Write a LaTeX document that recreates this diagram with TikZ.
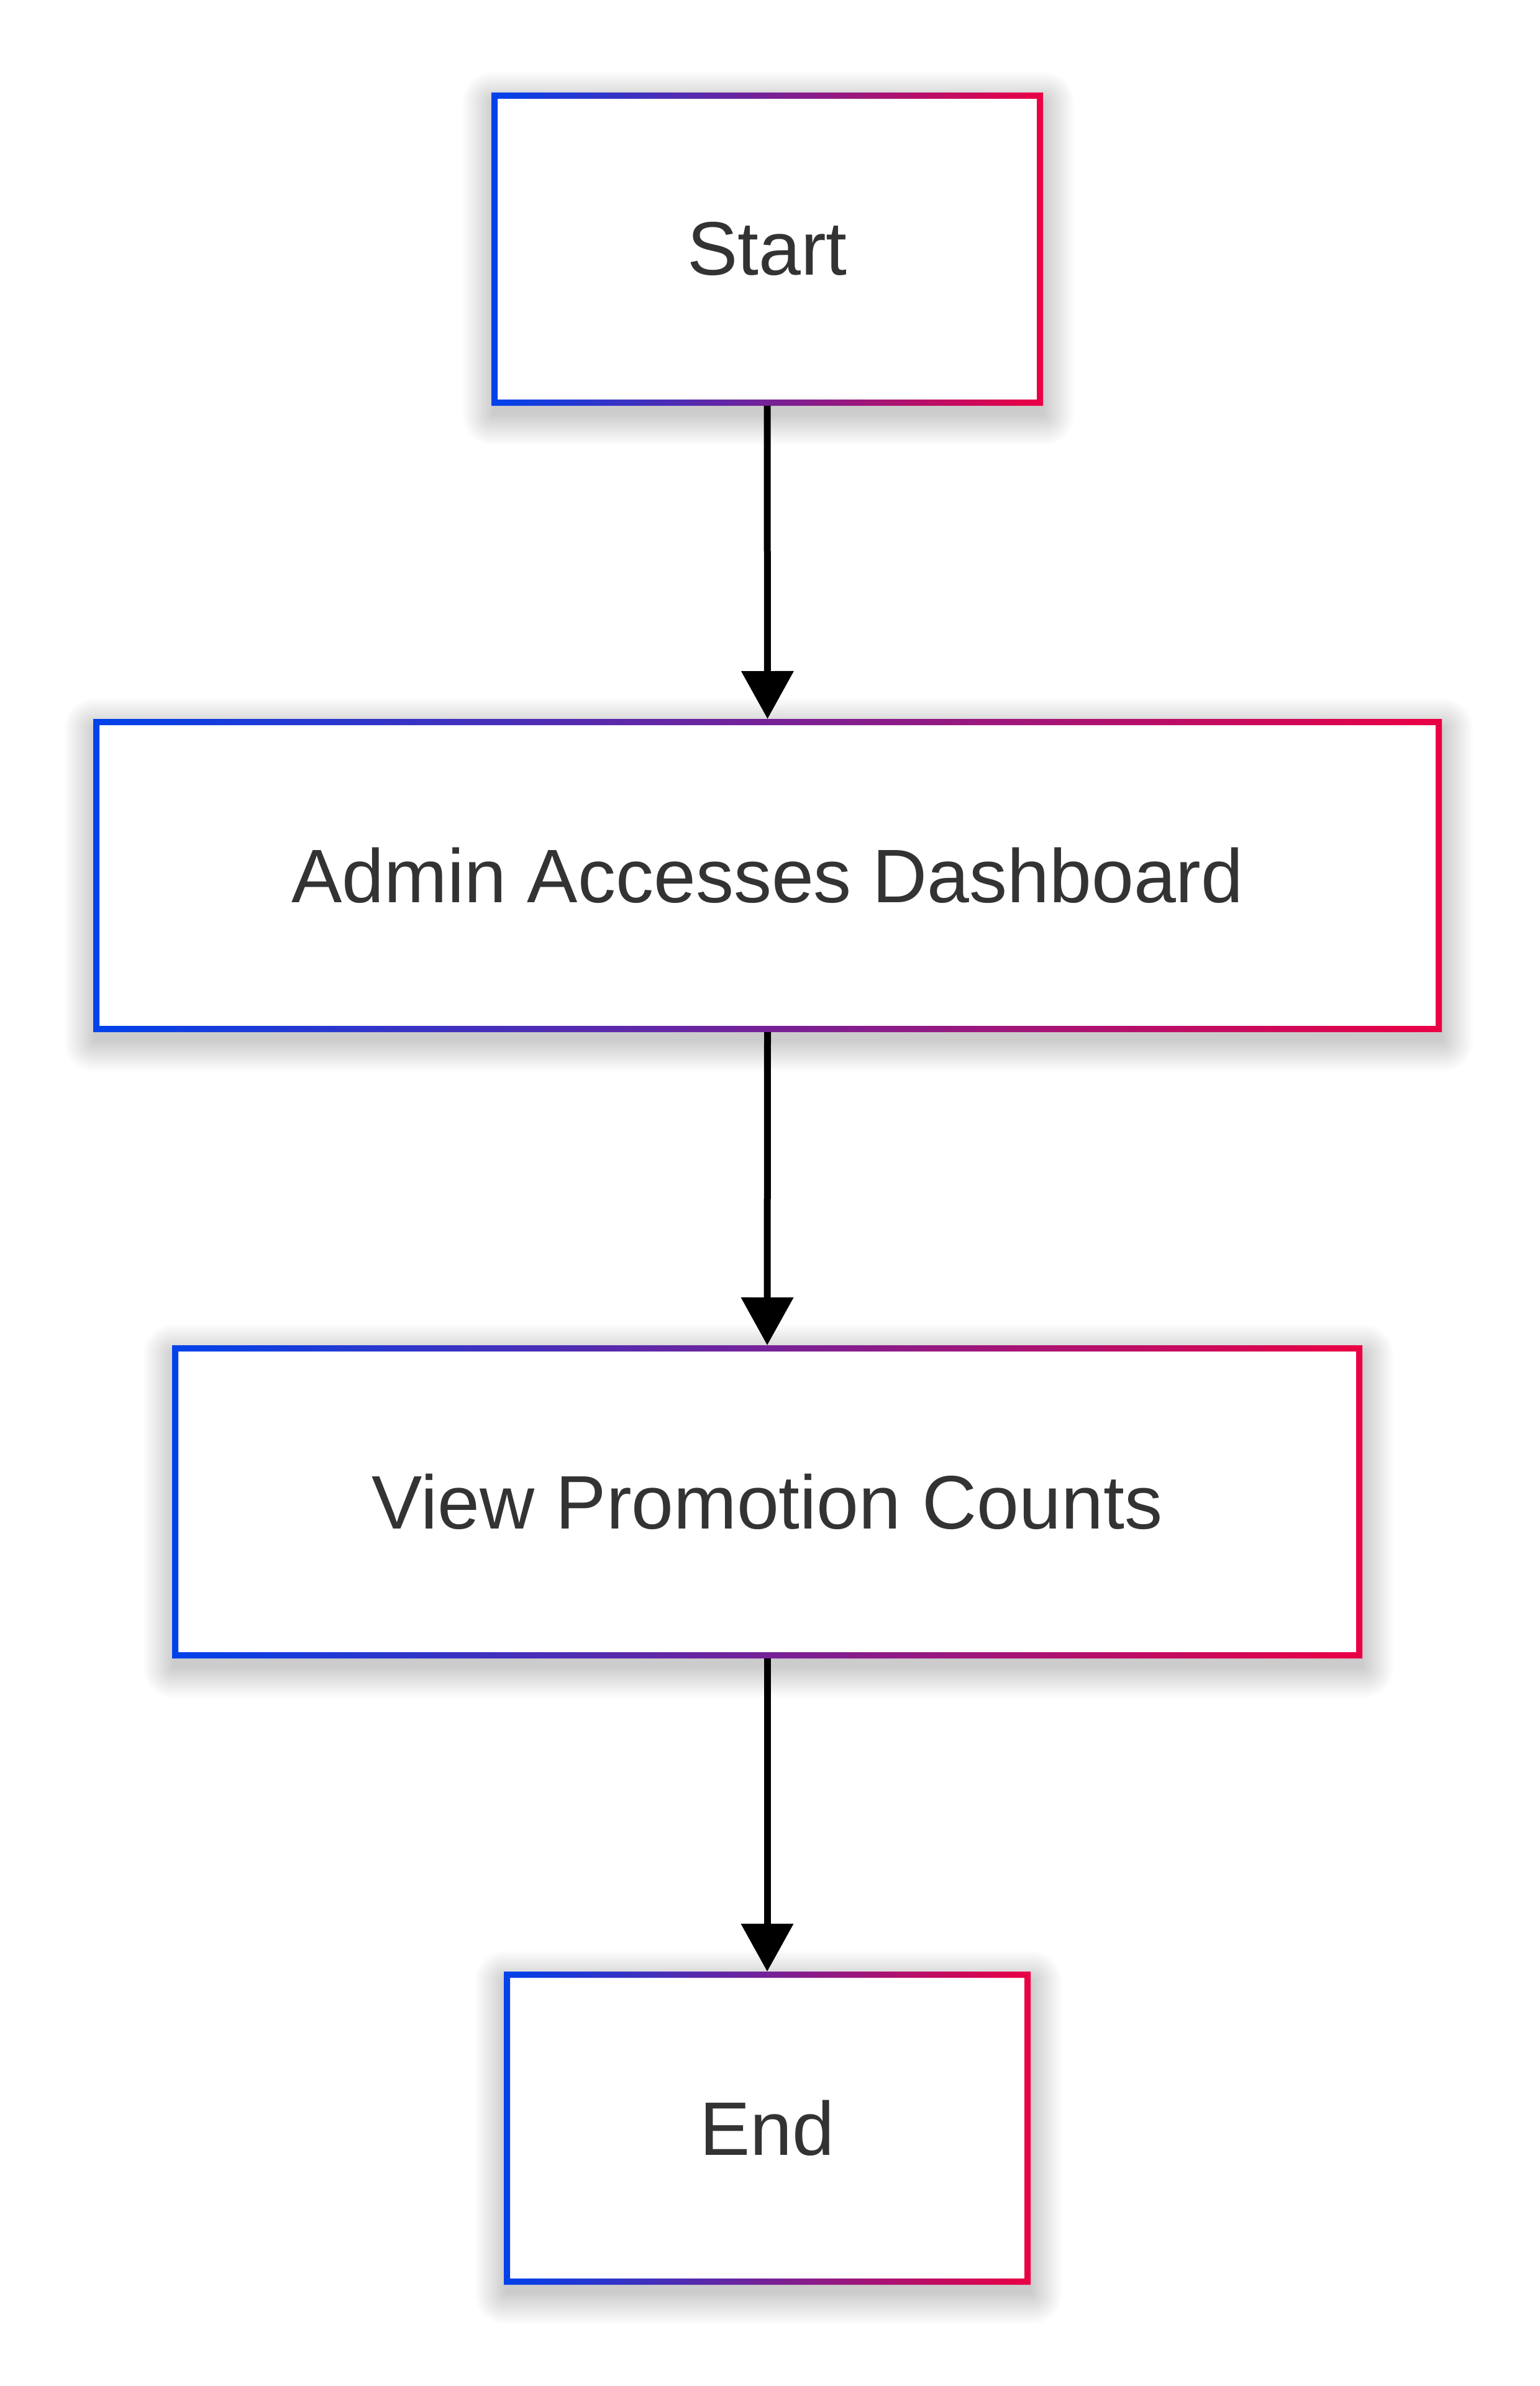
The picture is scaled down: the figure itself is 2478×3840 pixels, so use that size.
\documentclass[tikz,border=0pt]{standalone}
\usepackage{fontspec}
\setmainfont{Liberation Sans}
\usetikzlibrary{arrows.meta}
\pgfdeclarelayer{background}
\pgfsetlayers{background,main}
\definecolor{gblue}{RGB}{0,66,235}
\definecolor{gred}{RGB}{235,0,68}
\definecolor{txtgray}{RGB}{51,51,51}
\tikzset{
  flowbox/.style={rectangle, fill=white, draw=none, outer sep=0pt, inner sep=0pt,
    minimum height=504pt, text=txtgray, font=\fontsize{122}{146}\selectfont},
  shadowlayer/.style={fill=black, opacity=0.011},
  flowarrow/.style={draw=black, line width=11pt, -{Triangle[length=77pt,width=82pt]}},
}
\newcommand{\gradborder}[1]{%
  \shade[left color=gblue, right color=gred, even odd rule]
    (#1.north west) rectangle (#1.south east)
    ([shift={(10,10)}]#1.north west) rectangle ([shift={(-10,-10)}]#1.south east);}
\newcommand{\softshadow}[1]{%
  \begin{pgfonlayer}{background}
    \foreach \r in {0,3,...,48} {
      \fill[shadowlayer, rounded corners=\r pt]
        ([shift={(-\r+2,-\r+15)}]#1.north west) rectangle ([shift={(\r+2,\r+15)}]#1.south east);
    }
  \end{pgfonlayer}}
\begin{document}
\begin{tikzpicture}[x=1pt,y=-1pt]
  \begin{pgfonlayer}{background}
    \fill[white] (0,0) rectangle (2478,3840);
  \end{pgfonlayer}
  \useasboundingbox (0,0) rectangle (2478,3840);
  \node[flowbox, minimum width=888pt]  (start) at (1235,401)  {Start};
  \node[flowbox, minimum width=2171pt] (admin) at (1235.5,1409) {Admin Accesses Dashboard};
  \node[flowbox, minimum width=1916pt] (view)  at (1235,2417) {View Promotion Counts};
  \node[flowbox, minimum width=848pt]  (fin)   at (1235,3425) {End};
  \softshadow{start}
  \softshadow{admin}
  \softshadow{view}
  \softshadow{fin}
  \gradborder{start}
  \gradborder{admin}
  \gradborder{view}
  \gradborder{fin}
  \draw[flowarrow] (start.south) -- (admin.north);
  \draw[flowarrow] (admin.south) -- (view.north);
  \draw[flowarrow] (view.south) -- (fin.north);
\end{tikzpicture}
\end{document}
